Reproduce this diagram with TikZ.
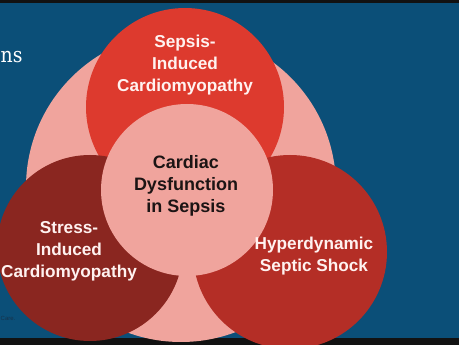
\documentclass[tikz,border=0pt]{standalone}
\usepackage{fontspec}
\setmainfont{Liberation Sans}
\newfontfamily\slabfont{DejaVu Serif Condensed}
\definecolor{bgblue}{HTML}{0B4F78}
\definecolor{pinkbig}{HTML}{F0A49D}
\definecolor{redtop}{HTML}{DD3A2E}
\definecolor{redleft}{HTML}{8A2620}
\definecolor{redright}{HTML}{B42E26}
\definecolor{darktext}{HTML}{1C1414}
\definecolor{whitetext}{HTML}{FFF2F0}
\definecolor{notetext}{HTML}{16324A}
\tikzset{
  disc/.style={circle, inner sep=0pt, draw=none},
  outerlabel/.style={align=center, text=whitetext, inner sep=0pt,
    font=\fontsize{17.2}{22}\selectfont\bfseries},
  innerlabel/.style={align=center, text=darktext, inner sep=0pt,
    font=\fontsize{18}{22}\selectfont\bfseries},
}
\begin{document}
\begin{tikzpicture}[x=1pt, y=-1pt]
\useasboundingbox (0,0) rectangle (459,345);
\clip (0,0) rectangle (459,345);
\fill[bgblue] (0,0) rectangle (459,345);
\fill[black!93] (0,0) rectangle (459,3);
\fill[black!93] (0,338) rectangle (459,345);
% title fragment and note fragment
\node[anchor=base west, inner sep=0pt, text=white, font=\slabfont\fontsize{21}{25}\selectfont] (title) at (0.5,63) {ns};
\node[anchor=base west, inner sep=0pt, text=notetext, font=\fontsize{6}{7}\selectfont] (note) at (0.5,320) {Care.};
% discs
\node[disc, fill=pinkbig, minimum size=310pt] (big) at (181,187) {};
\node[disc, fill=redtop, minimum size=198pt] (top) at (185,107) {};
\node[disc, fill=redleft, minimum size=186pt] (left) at (90,248) {};
\node[disc, fill=redright, minimum size=194pt] (right) at (290,252) {};
\node[disc, fill=pinkbig, minimum size=172pt] (center) at (187,190) {};
% labels
\node[outerlabel] (toplabel) at (185,65.5) {Sepsis-\\Induced\\Cardiomyopathy};
\node[outerlabel] (leftlabel) at (69,251.5) {Stress-\\Induced\\Cardiomyopathy};
\node[outerlabel] (rightlabel) at (314,256.5) {Hyperdynamic\\Septic Shock};
\node[innerlabel] (centerlabel) at (186,185.4) {Cardiac\\Dysfunction\\in Sepsis};
\end{tikzpicture}
\end{document}
